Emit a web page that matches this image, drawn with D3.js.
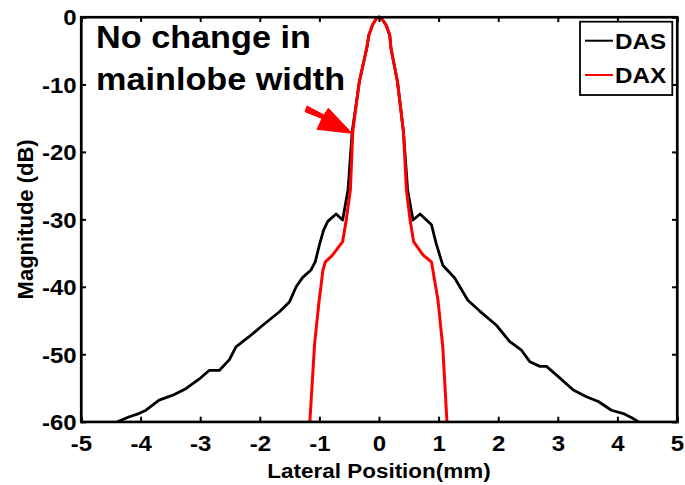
<!DOCTYPE html>
<html><head><meta charset="utf-8">
<script src="https://cdn.jsdelivr.net/npm/d3@7/dist/d3.min.js"></script>
<style>body{margin:0;background:#fff}svg{display:block}text{font-family:"Liberation Sans",Arial,sans-serif;font-weight:bold}</style>
</head><body><svg id="c" width="685" height="485"></svg>
<script>
// DAS beam profile (lateral position mm, magnitude dB)
const dasX = [-4.39,-4.2,-4.03,-3.91,-3.69,-3.47,-3.24,-3.02,-2.85,-2.68,-2.51,-2.4,-2.18,-1.95,-1.67,-1.5,-1.39,-1.28,-1.14,-1.07,-1.0,-0.93,-0.86,-0.72,-0.61,-0.52,-0.45,-0.33,-0.205,-0.17,-0.11,-0.05,0,0.05,0.12,0.18,0.2,0.31,0.41,0.48,0.57,0.69,0.88,0.96,1.07,1.27,1.49,1.69,1.97,2.19,2.39,2.53,2.7,2.81,2.98,3.26,3.48,3.68,3.9,4.1,4.24,4.35];
const dasY = [-60,-59.3,-58.8,-58.3,-56.8,-56.1,-55.1,-53.7,-52.4,-52.4,-50.8,-48.9,-47.4,-45.7,-43.7,-42.2,-40.0,-38.6,-37.5,-36.3,-33.8,-31.6,-30.3,-29.2,-30.1,-25.6,-17,-9.6,-4.6,-2.7,-1.2,-0.3,0,-0.3,-1.2,-2.7,-4.6,-9.6,-17,-25.6,-30.1,-29.2,-30.8,-33.6,-36.8,-38.7,-42.0,-43.6,-45.7,-48.1,-49.4,-51.1,-51.8,-51.8,-53.1,-55.3,-56.3,-57.0,-58.3,-58.8,-59.4,-60];
// DAX beam profile
const daxX = [-1.16,-1.08,-1.01,-0.94,-0.9,-0.78,-0.61,-0.55,-0.48,-0.44,-0.33,-0.205,-0.17,-0.11,-0.05,0,0.05,0.12,0.18,0.2,0.31,0.41,0.46,0.52,0.58,0.74,0.88,0.99,1.07,1.14];
const daxY = [-60,-48.4,-42.5,-37.5,-36.3,-35.3,-33.3,-30.1,-25.6,-17,-9.6,-4.6,-2.7,-1.2,-0.3,0,-0.3,-1.2,-2.7,-4.6,-9.6,-17,-25.6,-30.0,-33.3,-35.3,-36.3,-42.0,-48.9,-60];
const xTicks = [-5,-4,-3,-2,-1,0,1,2,3,4,5];
const yTicks = [0,-10,-20,-30,-40,-50,-60];
const seriesNames = ["DAS","DAX"];
const seriesColors = ["#000000","#ff0000"];
const annotation = ["No change in","mainlobe width"];

const L=81, R=677, T=17, B=421.7;
const svg = d3.select("#c");
const x = d3.scaleLinear().domain([-5,5]).range([L,R]);
const y = d3.scaleLinear().domain([-60,0]).range([B,T]);

svg.append("defs").append("clipPath").attr("id","pc")
  .append("rect").attr("x",L).attr("y",T-3).attr("width",R-L).attr("height",B-T+3);

const line = d3.line().x(d=>x(d[0])).y(d=>y(d[1]));
const g = svg.append("g").attr("clip-path","url(#pc)");
g.append("path").datum(dasX.map((v,i)=>[v,dasY[i]])).attr("d",line)
  .attr("fill","none").attr("stroke",seriesColors[0]).attr("stroke-width",2.8).attr("stroke-linejoin","round");
g.append("path").datum(daxX.map((v,i)=>[v,daxY[i]])).attr("d",line)
  .attr("fill","none").attr("stroke",seriesColors[1]).attr("stroke-width",3).attr("stroke-linejoin","round");

// axes (ticks inside)
const fmt = d => String(d);
const ax = svg.append("g").attr("transform",`translate(0,${B})`)
  .call(d3.axisBottom(x).tickValues(xTicks).tickSize(-5).tickPadding(14).tickFormat(fmt));
const axt = svg.append("g").attr("transform",`translate(0,${T})`)
  .call(d3.axisTop(x).tickValues(xTicks).tickSize(-5).tickFormat(""));
const ay = svg.append("g").attr("transform",`translate(${L},0)`)
  .call(d3.axisLeft(y).tickValues(yTicks).tickSize(-5).tickPadding(4).tickFormat(fmt));
const ayr = svg.append("g").attr("transform",`translate(${R},0)`)
  .call(d3.axisRight(y).tickValues(yTicks).tickSize(-5).tickFormat(""));
[ax,axt,ay,ayr].forEach(a=>{
  a.select(".domain").attr("stroke","#000").attr("stroke-width",2.2);
  a.selectAll(".tick line").attr("stroke","#000").attr("stroke-width",2);
  a.selectAll("text").style("font-size","22px").style("font-weight","bold").attr("fill","#000")
   .style("font-family","'Liberation Sans',Arial,sans-serif").attr("transform","scale(1.09,1)");
});
ax.selectAll("text").attr("dy","0.71em");
ay.selectAll("text").attr("dy","0.36em");
svg.append("rect").attr("x",L).attr("y",T).attr("width",R-L).attr("height",B-T)
  .attr("fill","none").attr("stroke","#000").attr("stroke-width",2.2);

// axis titles
svg.append("text").attr("transform",`translate(${(L+R)/2},478) scale(1.07,1)`).attr("text-anchor","middle")
  .style("font-size","21px").text("Lateral Position(mm)");
svg.append("text").attr("transform",`translate(33,${(T+B)/2}) rotate(-90)`).attr("text-anchor","middle")
  .style("font-size","22px").text("Magnitude (dB)");

// annotation
svg.append("text").attr("transform","translate(96,48) scale(1.07,1)").style("font-size","32px").text(annotation[0]);
svg.append("text").attr("transform","translate(96,90) scale(1.07,1)").style("font-size","32px").text(annotation[1]);
// arrow
svg.append("path").attr("d","M305,111.7 L322,118.5 L317,129.3 L352,133.3 L328.3,108.3 L324,115 L307,106 Z")
  .attr("fill","#ff0000").attr("stroke","#ff0000").attr("stroke-width",1);

// legend
const lg = svg.append("g");
lg.append("rect").attr("x",580).attr("y",21.7).attr("width",92.3).attr("height",73.3)
  .attr("fill","#fff").attr("stroke","#000").attr("stroke-width",1.8);
seriesNames.forEach((n,i)=>{
  const yy = 40.7 + i*34.3;
  lg.append("line").attr("x1",585).attr("x2",613).attr("y1",yy).attr("y2",yy)
    .attr("stroke",seriesColors[i]).attr("stroke-width",2);
  lg.append("text").attr("transform",`translate(615,${yy+8}) scale(1.1,1)`).style("font-size","22px").text(n);
});
</script></body></html>
